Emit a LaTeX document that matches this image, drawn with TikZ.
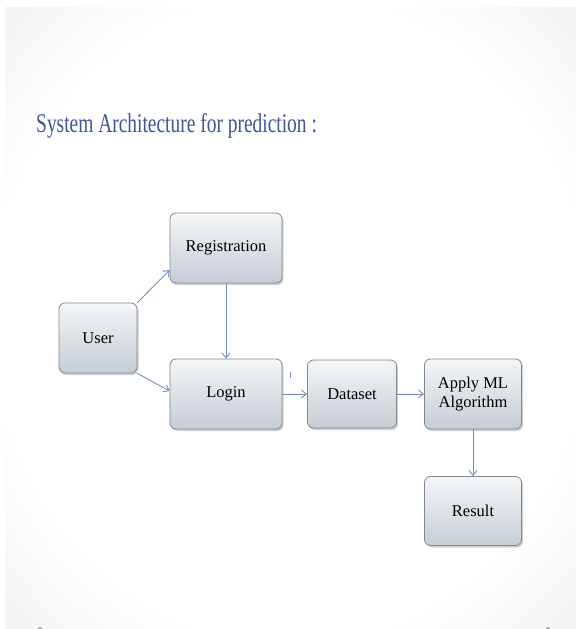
\documentclass[tikz,border=0pt]{standalone}
\usepackage{fontspec}
\setmainfont{Liberation Serif}
\usetikzlibrary{arrows.meta,shadows}
\definecolor{titleblue}{RGB}{62,86,152}
\definecolor{arrowblue}{RGB}{118,138,196}
\definecolor{boxtop}{RGB}{244,246,248}
\definecolor{boxbot}{RGB}{198,205,213}
\definecolor{boxline}{RGB}{128,136,146}
\definecolor{bgmid}{RGB}{234,234,234}
\definecolor{bgedge}{RGB}{210,210,210}
\pgfdeclareradialshading{slidebg}{\pgfpoint{0bp}{0bp}}{%
  color(0bp)=(white); color(26bp)=(white); color(42bp)=(bgmid); color(52bp)=(bgedge); color(70bp)=(bgedge)}
\tikzset{
  flowbox/.style={rectangle, rounded corners=6pt, draw=boxline, line width=0.8pt,
    top color=boxtop, bottom color=boxbot, inner sep=0pt, align=center,
    font=\fontsize{16.5}{19}\selectfont,
    drop shadow={shadow xshift=1.5pt, shadow yshift=-2pt, opacity=0.3, fill=black!60}},
  flow/.style={draw=arrowblue, line width=0.9pt, -{Straight Barb[length=5pt,width=8pt]}},
}
\begin{document}
\begin{tikzpicture}[x=1pt,y=-1pt]
\useasboundingbox (0,0) rectangle (576,629);
\fill[white] (0,0) rectangle (576,629);
\shade[shading=slidebg] (5,7) rectangle (576,629);
\fill[gray!70] (40,629) circle (2);
\fill[gray!70] (548,629) circle (2);

\node[anchor=base west, text=titleblue, inner sep=0pt] (title) at (36,132)
  {\scalebox{0.72}[1]{\fontsize{27}{30}\selectfont System Architecture for prediction :}};

\node[flowbox, minimum width=112pt, minimum height=70pt] (reg) at (226,248) {Registration};
\node[flowbox, minimum width=78pt, minimum height=70pt] (user) at (98,338) {User};
\node[flowbox, minimum width=112pt, minimum height=70pt] (login) at (226,394) {Login};
\node[flowbox, minimum width=89pt, minimum height=68pt] (data) at (352,394) {Dataset};
\node[flowbox, minimum width=97pt, minimum height=70pt] (ml) at (473,394) {Apply ML\\Algorithm};
\node[flowbox, minimum width=97pt, minimum height=69pt] (res) at (473,511) {Result};

\draw[flow] (user.north east) -- (reg.west |- 0,270);
\draw[flow] (user.south east) -- (login.west |- 0,391);
\draw[flow] (reg.south) -- (login.north);
\draw[flow] (login.east) -- (data.west);
\draw[flow] (data.east) -- (ml.west);
\draw[flow] (ml.south) -- (res.north);
\coordinate (tickA) at (290,372);
\coordinate (tickB) at (290,378);
\draw[arrowblue, line width=0.8pt] (tickA) -- (tickB);
\end{tikzpicture}
\end{document}
